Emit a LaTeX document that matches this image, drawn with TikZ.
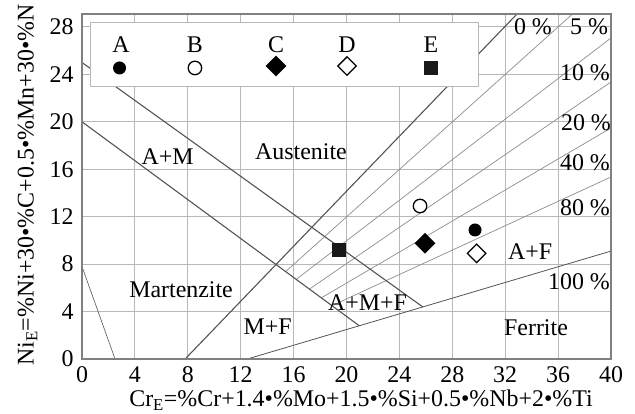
\documentclass[tikz,border=0pt]{standalone}
\usepackage{fontspec}
\setmainfont{Liberation Serif}
\usepackage{tikz}
\usetikzlibrary{shapes.geometric}
\definecolor{luoixam}{gray}{0.72}
\definecolor{bienxam}{gray}{0.33}
\definecolor{feritxam}{gray}{0.55}
\definecolor{khungxam}{gray}{0.5}

\begin{document}
\begin{tikzpicture}[x=13.225bp, y=11.86bp,
    luoi/.style={luoixam, line width=0.9bp},
    ferit/.style={feritxam, line width=0.7bp},
    bien/.style={bienxam, line width=1.1bp},
    khung/.style={khungxam, line width=1.6bp},
    nhan/.style={font=\fontsize{24}{27}\selectfont, inner sep=0pt},
    mA/.style={circle, fill=black, minimum size=13bp, inner sep=0pt},
    mB/.style={circle, fill=white, draw=black, line width=1.3bp, minimum size=13.5bp, inner sep=0pt},
    mC/.style={diamond, fill=black, minimum size=21bp, inner sep=0pt},
    mD/.style={diamond, fill=white, draw=black, line width=1.3bp, minimum size=19bp, inner sep=0pt},
    mE/.style={rectangle, fill=black!90, minimum size=14bp, inner sep=0pt}]

        % Cố định khung ảnh
        \useasboundingbox (-6.2,-4.637) rectangle (41.815,30.27);

        % Vẽ lưới
        \foreach \x in {4,8,...,36} \draw[luoi] (\x,0) -- (\x,29.1); % Đường dọc
        \foreach \y in {4,8,...,28} \draw[luoi] (0,\y) -- (40,\y); % Đường ngang

        % Vẽ các đường ferit
        \draw[ferit] (15.4,7.372) -- (37.1,29.1); % 5 %
        \draw[ferit] (16.2,6.716) -- (40,27.07); % 10 %
        \draw[ferit] (17.2,5.896) -- (40,23.36); % 20 %
        \draw[ferit] (18.1,5.158) -- (40,19.48); % 40 %
        \draw[ferit] (18.9,4.502) -- (40,15.35); % 80 %

        % Vẽ các đường biên pha
        \draw[bien] (0,25) -- (25.77,4.39); % A / A+M
        \draw[bien] (0,20) -- (20.97,2.8); % A+M / M
        \draw[bien] (7.8,0) -- (32.9,29.1); % 0 %
        \draw[bienxam, line width=0.8bp] (12.5,0) -- (40,9.1); % 100 %
        \draw[bienxam, line width=0.6bp] (0,7.8) -- (2.5,0); % Đường ngắn

        % Khung trục
        \draw[khung] (0,0) rectangle (40,29.1);

        % Nhãn trục
        \foreach \x in {0,4,...,40} \node[nhan, anchor=north] (x\x) at (\x,-0.65) {\x};
        \foreach \y in {0,4,...,28} \node[nhan, anchor=east] (y\y) at (-0.62,\y) {\y};
        \node[nhan] (trucx) at (21.1,-3.49) {Cr\textsubscript{E}=\%Cr+1.4•\%Mo+1.5•\%Si+0.5•\%Nb+2•\%Ti};
        \node[nhan, rotate=90] (trucy) at (-4.12,14.67) {Ni\textsubscript{E}=\%Ni+30•\%C+0.5•\%Mn+30•\%N};

        % Hộp chú thích
        \draw[luoixam, line width=0.8bp, fill=white] (0.6,23) rectangle (29.94,28.36);
        \node[nhan] (chuA) at (2.95,26.48) {A};
        \node[nhan] (chuB) at (8.54,26.48) {B};
        \node[nhan] (chuC) at (14.67,26.48) {C};
        \node[nhan] (chuD) at (20.04,26.48) {D};
        \node[nhan] (chuE) at (26.39,26.48) {E};
        \node[mA] (kyA) at (2.84,24.54) {};
        \node[mB] (kyB) at (8.54,24.54) {};
        \node[mC] (kyC) at (14.67,24.7) {};
        \node[mD] (kyD) at (20.04,24.7) {};
        \node[mE] (kyE) at (26.39,24.54) {};

        % Tên các vùng
        \node[nhan] (AM) at (6.47,17.07) {A+M};
        \node[nhan] (aus) at (16.56,17.45) {Austenite};
        \node[nhan] (mar) at (7.49,5.82) {Martenzite};
        \node[nhan] (MF) at (14.03,2.74) {M+F};
        \node[nhan] (AMF) at (21.59,4.72) {A+M+F};
        \node[nhan] (AF) at (33.88,9.02) {A+F};
        \node[nhan] (fer) at (34.33,2.61) {Ferrite};

        % Nhãn phần trăm ferit
        \node[nhan] (p0) at (34.10,28.04) {0 \%};
        \node[nhan] (p5) at (38.34,28.04) {5 \%};
        \node[nhan] (p10) at (38.03,24.11) {10 \%};
        \node[nhan] (p20) at (38.11,19.94) {20 \%};
        \node[nhan] (p40) at (38.03,16.57) {40 \%};
        \node[nhan] (p80) at (38.03,12.77) {80 \%};
        \node[nhan] (p100) at (37.58,6.49) {100 \%};

        % Các điểm mẫu
        \node[mA] (diemA) at (29.72,10.88) {};
        \node[mB] (diemB) at (25.56,12.9) {};
        \node[mC] (diemC) at (25.94,9.76) {};
        \node[mD] (diemD) at (29.84,8.91) {};
        \node[mE] (diemE) at (19.46,9.19) {};

\end{tikzpicture}
\end{document}
